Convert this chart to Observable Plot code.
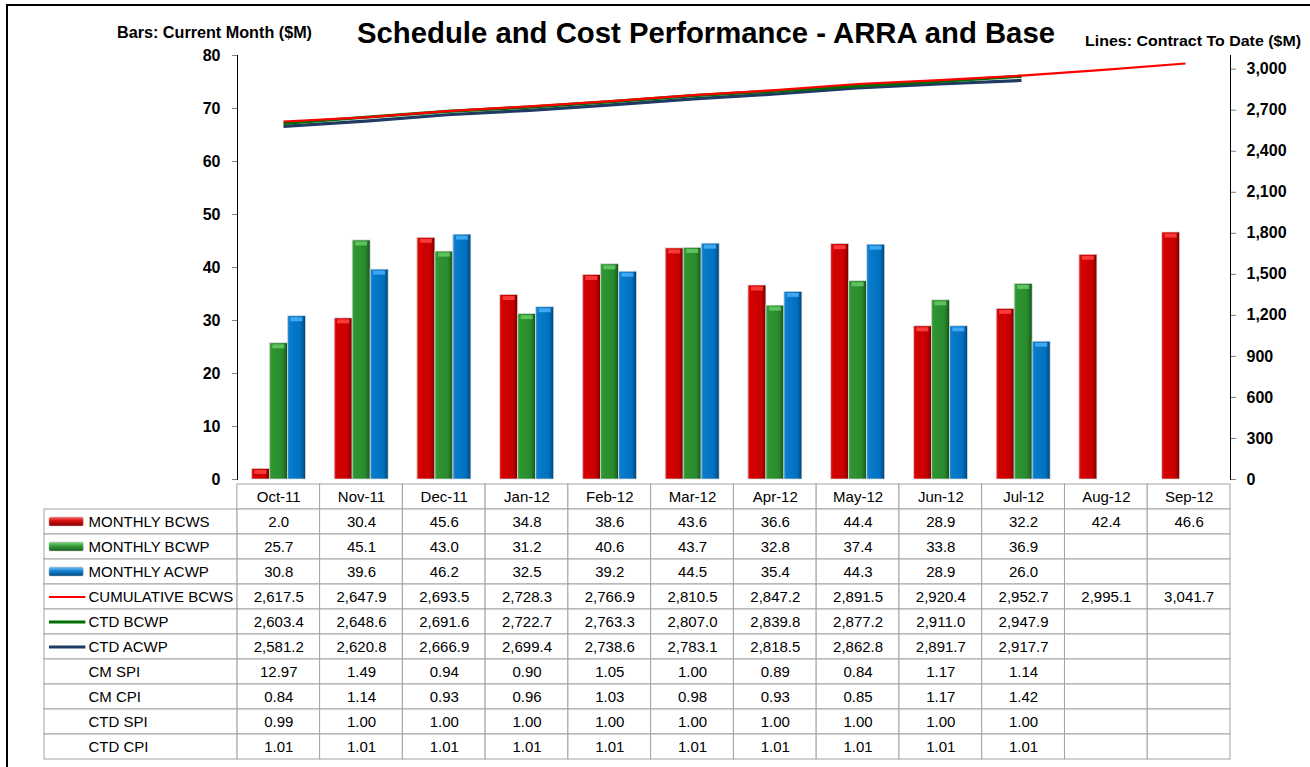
<!DOCTYPE html>
<html>
<head>
<meta charset="utf-8">
<script src="https://cdn.jsdelivr.net/npm/d3@7"></script>
<script src="https://cdn.jsdelivr.net/npm/@observablehq/plot@0.6"></script>
<style>
  html, body { margin: 0; padding: 0; background: #fff; overflow: hidden; }
  body { font-family: "Liberation Sans", Arial, sans-serif; }
  #wrap { position: relative; width: 1310px; height: 767px; overflow: hidden; background: #fff; }
  #frame { position: absolute; left: 6px; top: 4px; width: 1400px; height: 900px; border: 2px solid #000; box-sizing: border-box; }
  .layer { position: absolute; left: 0; }
  .layer svg { overflow: visible; }
  #bars g[aria-label="y-axis tick"], #lines g[aria-label="y-axis tick"],
  #bars g[aria-label="y-axis line"], #lines g[aria-label="y-axis line"],
  #bars g[aria-label="rule"], #lines g[aria-label="rule"] { stroke: #7f7f7f; }
</style>
</head>
<body>
<div id="wrap">
  <div id="frame"></div>
  <svg width="0" height="0" style="position:absolute">
    <defs>
      <linearGradient id="gR" x1="0" x2="1" y1="0" y2="0">
        <stop offset="0" stop-color="#e83a3a"/><stop offset="0.12" stop-color="#d40000"/>
        <stop offset="0.72" stop-color="#c80000"/><stop offset="0.9" stop-color="#9c0000"/><stop offset="1" stop-color="#6a0000"/>
      </linearGradient>
      <linearGradient id="gG" x1="0" x2="1" y1="0" y2="0">
        <stop offset="0" stop-color="#52ac52"/><stop offset="0.12" stop-color="#2f9533"/>
        <stop offset="0.72" stop-color="#288a2c"/><stop offset="0.9" stop-color="#1d6b21"/><stop offset="1" stop-color="#114513"/>
      </linearGradient>
      <linearGradient id="gB" x1="0" x2="1" y1="0" y2="0">
        <stop offset="0" stop-color="#3f9ee2"/><stop offset="0.12" stop-color="#0b7bcc"/>
        <stop offset="0.72" stop-color="#0070c0"/><stop offset="0.9" stop-color="#00589a"/><stop offset="1" stop-color="#003864"/>
      </linearGradient>
      <linearGradient id="sR" x1="0" x2="0" y1="0" y2="1">
        <stop offset="0" stop-color="#ff7070"/><stop offset="0.4" stop-color="#d81010"/><stop offset="1" stop-color="#860000"/>
      </linearGradient>
      <linearGradient id="sG" x1="0" x2="0" y1="0" y2="1">
        <stop offset="0" stop-color="#86d886"/><stop offset="0.4" stop-color="#3aa03e"/><stop offset="1" stop-color="#1a5e1c"/>
      </linearGradient>
      <linearGradient id="sB" x1="0" x2="0" y1="0" y2="1">
        <stop offset="0" stop-color="#7cc4f6"/><stop offset="0.4" stop-color="#1a86d4"/><stop offset="1" stop-color="#004a84"/>
      </linearGradient>
    </defs>
  </svg>
  <svg class="layer" style="top:0" width="1310" height="60">
    <text x="117" y="38" font-size="16" font-weight="bold" textLength="195" lengthAdjust="spacingAndGlyphs" font-family="Liberation Sans, Arial, sans-serif">Bars: Current Month ($M)</text>
    <text x="357" y="43" font-size="30" font-weight="bold" textLength="698" lengthAdjust="spacingAndGlyphs" font-family="Liberation Sans, Arial, sans-serif">Schedule and Cost Performance - ARRA and Base</text>
    <text x="1085" y="46" font-size="15.5" font-weight="bold" textLength="216" lengthAdjust="spacingAndGlyphs" font-family="Liberation Sans, Arial, sans-serif">Lines: Contract To Date ($M)</text>
  </svg>
  <div id="bars" class="layer" style="top:0"></div>
  <div id="lines" class="layer" style="top:0"></div>
  <div id="table" class="layer" style="top:479px"></div>
</div>
<script>
// ---------------- DATA ----------------
const months = ["Oct-11","Nov-11","Dec-11","Jan-12","Feb-12","Mar-12","Apr-12","May-12","Jun-12","Jul-12","Aug-12","Sep-12"];

const monthlyBCWS = [2.0, 30.4, 45.6, 34.8, 38.6, 43.6, 36.6, 44.4, 28.9, 32.2, 42.4, 46.6];
const monthlyBCWP = [25.7, 45.1, 43.0, 31.2, 40.6, 43.7, 32.8, 37.4, 33.8, 36.9, null, null];
const monthlyACWP = [30.8, 39.6, 46.2, 32.5, 39.2, 44.5, 35.4, 44.3, 28.9, 26.0, null, null];

const cumulativeBCWS = [2617.5, 2647.9, 2693.5, 2728.3, 2766.9, 2810.5, 2847.2, 2891.5, 2920.4, 2952.7, 2995.1, 3041.7];
const ctdBCWP = [2603.4, 2648.6, 2691.6, 2722.7, 2763.3, 2807.0, 2839.8, 2877.2, 2911.0, 2947.9, null, null];
const ctdACWP = [2581.2, 2620.8, 2666.9, 2699.4, 2738.6, 2783.1, 2818.5, 2862.8, 2891.7, 2917.7, null, null];

const cmSPI  = [12.97, 1.49, 0.94, 0.90, 1.05, 1.00, 0.89, 0.84, 1.17, 1.14, null, null];
const cmCPI  = [0.84, 1.14, 0.93, 0.96, 1.03, 0.98, 0.93, 0.85, 1.17, 1.42, null, null];
const ctdSPI = [0.99, 1.00, 1.00, 1.00, 1.00, 1.00, 1.00, 1.00, 1.00, 1.00, null, null];
const ctdCPI = [1.01, 1.01, 1.01, 1.01, 1.01, 1.01, 1.01, 1.01, 1.01, 1.01, null, null];

const barSeries  = ["MONTHLY BCWS", "MONTHLY BCWP", "MONTHLY ACWP"];
const lineSeries = ["CUMULATIVE BCWS", "CTD BCWP", "CTD ACWP"];
const ratioRows  = ["CM SPI", "CM CPI", "CTD SPI", "CTD CPI"];

const leftTicks  = [0, 10, 20, 30, 40, 50, 60, 70, 80];
const rightTicks = [0, 300, 600, 900, 1200, 1500, 1800, 2100, 2400, 2700, 3000];

// ---------------- STYLE ----------------
const barFill   = {"MONTHLY BCWS": "url(#gR)", "MONTHLY BCWP": "url(#gG)", "MONTHLY ACWP": "url(#gB)"};
const barBevel  = {"MONTHLY BCWS": "#ff4040", "MONTHLY BCWP": "#62c964", "MONTHLY ACWP": "#45adf5"};
const swatchFill = {"MONTHLY BCWS": "url(#sR)", "MONTHLY BCWP": "url(#sG)", "MONTHLY ACWP": "url(#sB)"};
const lineColor = {"CUMULATIVE BCWS": "#ff0000", "CTD BCWP": "#006f00", "CTD ACWP": "#1f3a63"};
const lineWidth = {"CUMULATIVE BCWS": 2.2, "CTD BCWP": 3.2, "CTD ACWP": 3.2};

const W = 1310, ML = 237, MR = 80, MT = 55, CH = 484, MB = 5;
const FONT = "Liberation Sans, Arial, sans-serif";
// group layout within one month column: gap (in bar widths) on each side of the 3 bars
const GROUP_GAP = 0.8;
const GROUP_UNITS = barSeries.length + 2 * GROUP_GAP;

// ---------------- BUILD TABLES ----------------
const barValues = [monthlyBCWS, monthlyBCWP, monthlyACWP];
const barData = [];
months.forEach((m, i) => barSeries.forEach((s, j) => {
  const v = barValues[j][i];
  if (v != null) barData.push({month: m, series: s, value: v});
}));
const monthIdx = d => months.indexOf(d.month);
const seriesIdx = d => barSeries.indexOf(d.series);
const barX1 = d => monthIdx(d) + (GROUP_GAP + seriesIdx(d)) / GROUP_UNITS;
const barX2 = d => monthIdx(d) + (GROUP_GAP + seriesIdx(d) + 1) / GROUP_UNITS;

const lineValues = [cumulativeBCWS, ctdBCWP, ctdACWP];
const lineData = [];
lineSeries.forEach((s, j) => months.forEach((m, i) => {
  const v = lineValues[j][i];
  if (v != null) lineData.push({month: m, series: s, value: v});
}));

// ---------------- BARS (left axis) ----------------
const barsPlot = Plot.plot({
  width: W, height: CH,
  marginLeft: ML, marginRight: MR, marginTop: MT, marginBottom: MB,
  style: {background: "transparent", fontFamily: FONT, fontSize: "16px", fontWeight: "bold", color: "#000"},
  x: {domain: [0, months.length], axis: null},
  y: {domain: [0, 80], ticks: leftTicks, tickSize: 5, tickPadding: 12, line: true, label: null},
  color: {type: "identity"},
  marks: [
    Plot.rectY(barData, {x1: barX1, x2: barX2, y1: 0, y2: "value", fill: d => barFill[d.series], stroke: "#d9d9d9", strokeWidth: 0.7}),
    Plot.ruleY(barData, {x1: barX1, x2: barX2, y: "value", stroke: d => barBevel[d.series], strokeWidth: 4, dy: 3, insetLeft: 3, insetRight: 3, strokeOpacity: 0.9})
  ]
});
document.getElementById("bars").appendChild(barsPlot);

// ---------------- LINES (right axis) ----------------
const lineMarks = lineSeries.slice().reverse().map(s =>
  Plot.line(lineData, {filter: d => d.series === s, x: "month", y: "value", stroke: lineColor[s], strokeWidth: lineWidth[s], strokeLinecap: "butt"})
);
const linesPlot = Plot.plot({
  width: W, height: CH,
  marginLeft: ML, marginRight: MR, marginTop: MT, marginBottom: MB,
  style: {background: "transparent", fontFamily: FONT, fontSize: "16px", fontWeight: "bold", color: "#000"},
  x: {type: "point", domain: months, padding: 0.5, axis: null},
  y: {domain: [0, 3100], axis: "right", ticks: rightTicks, tickFormat: d3.format(","), tickSize: 5, tickPadding: 11, line: true, label: null},
  marks: lineMarks
});
document.getElementById("lines").appendChild(linesPlot);

// ---------------- DATA TABLE ----------------
const LABEL_COLS = 2.33; // width of the legend/label column, in month-column units
const rowKeys = ["header", ...barSeries, ...lineSeries, ...ratioRows];
const rowValues = {
  "MONTHLY BCWS": monthlyBCWS, "MONTHLY BCWP": monthlyBCWP, "MONTHLY ACWP": monthlyACWP,
  "CUMULATIVE BCWS": cumulativeBCWS, "CTD BCWP": ctdBCWP, "CTD ACWP": ctdACWP,
  "CM SPI": cmSPI, "CM CPI": cmCPI, "CTD SPI": ctdSPI, "CTD CPI": ctdCPI
};
const fmt1 = d3.format(",.1f"), fmt2 = d3.format(".2f");
const cellFmt = r => ratioRows.includes(r) ? fmt2 : fmt1;

const gridCells = [];
const valueCells = [];
rowKeys.forEach(r => months.forEach((m, i) => {
  gridCells.push({row: r, c: i});
  if (r === "header") valueCells.push({row: r, c: i, text: m});
  else if (rowValues[r][i] != null) valueCells.push({row: r, c: i, text: cellFmt(r)(rowValues[r][i])});
}));
const labelRows = rowKeys.slice(1).map(r => ({row: r}));
const barSwatches = barSeries.map(r => ({row: r}));
const lineSwatches = lineSeries.map(r => ({row: r}));

const tablePlot = Plot.plot({
  width: W, height: 288,
  marginLeft: 44, marginRight: MR, marginTop: 0, marginBottom: 3,
  style: {background: "transparent", fontFamily: FONT, fontSize: "15px", color: "#000"},
  x: {domain: [-LABEL_COLS, months.length], axis: null},
  y: {domain: rowKeys, padding: 0, axis: null},
  color: {type: "identity"},
  marks: [
    Plot.barX(gridCells, {x1: "c", x2: d => d.c + 1, y: "row", fill: "white", stroke: "#a3a3a3", strokeWidth: 1}),
    Plot.barX(labelRows, {x1: () => -LABEL_COLS, x2: () => 0, y: "row", fill: "white", stroke: "#a3a3a3", strokeWidth: 1}),
    Plot.text(valueCells, {x: d => d.c + 0.5, y: "row", text: "text", fill: "#000"}),
    Plot.barX(barSwatches, {x1: () => -LABEL_COLS + 0.06, x2: () => -LABEL_COLS + 0.475, y: "row", insetTop: 8, insetBottom: 8, fill: d => swatchFill[d.row], stroke: "#bbbbbb", strokeWidth: 0.5, rx: 1.5}),
    Plot.ruleY(lineSwatches, {x1: () => -LABEL_COLS + 0.06, x2: () => -LABEL_COLS + 0.5, y: "row", stroke: d => lineColor[d.row], strokeWidth: d => lineWidth[d.row]}),
    Plot.text(labelRows, {x: () => -LABEL_COLS, y: "row", text: "row", textAnchor: "start", dx: 44, fill: "#000"})
  ]
});
document.getElementById("table").appendChild(tablePlot);
</script>
</body>
</html>
